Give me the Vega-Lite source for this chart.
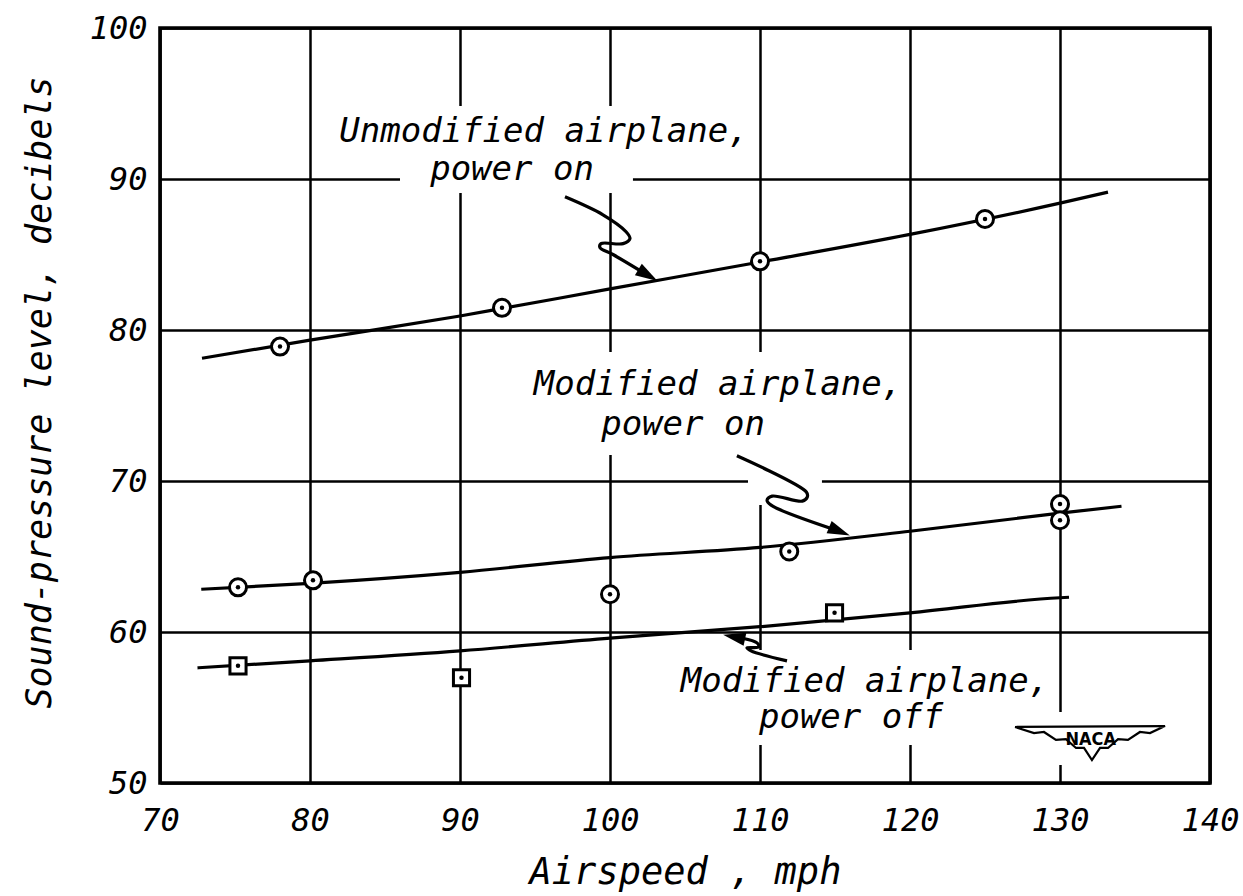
{
  "$schema": "https://vega.github.io/schema/vega-lite/v6.json",
  "width": 1050,
  "height": 755,
  "autosize": {"type": "none"},
  "padding": {"left": 160, "top": 28, "right": 33, "bottom": 113},
  "background": "white",
  "config": {
    "view": {"stroke": "black", "strokeWidth": 3.6},
    "font": "DejaVu Sans Mono",
    "axis": {
      "grid": true, "gridColor": "black", "gridWidth": 2.5, "gridOpacity": 1,
      "domain": false, "ticks": false,
      "labelFont": "DejaVu Sans Mono", "labelFontSize": 32, "labelFontStyle": "italic", "labelColor": "black",
      "titleFont": "DejaVu Sans Mono", "titleFontSize": 35, "titleFontStyle": "italic", "titleFontWeight": "normal", "titleColor": "black"
    }
  },
  "datasets": {
    "curves": [
      {"series": "unmod", "x": 72.8, "y": 78.13},
      {"series": "unmod", "x": 80, "y": 79.33},
      {"series": "unmod", "x": 90, "y": 80.93},
      {"series": "unmod", "x": 100, "y": 82.72},
      {"series": "unmod", "x": 110, "y": 84.5},
      {"series": "unmod", "x": 120, "y": 86.33},
      {"series": "unmod", "x": 130, "y": 88.4},
      {"series": "unmod", "x": 133.2, "y": 89.13},
      {"series": "mod_on", "x": 72.75, "y": 62.83},
      {"series": "mod_on", "x": 80, "y": 63.22},
      {"series": "mod_on", "x": 90, "y": 63.95},
      {"series": "mod_on", "x": 100, "y": 64.93},
      {"series": "mod_on", "x": 110, "y": 65.6},
      {"series": "mod_on", "x": 120, "y": 66.67},
      {"series": "mod_on", "x": 130, "y": 67.87},
      {"series": "mod_on", "x": 134.1, "y": 68.33},
      {"series": "mod_off", "x": 72.5, "y": 57.63},
      {"series": "mod_off", "x": 80, "y": 58.09},
      {"series": "mod_off", "x": 90, "y": 58.75},
      {"series": "mod_off", "x": 100, "y": 59.6},
      {"series": "mod_off", "x": 110, "y": 60.35},
      {"series": "mod_off", "x": 120, "y": 61.27},
      {"series": "mod_off", "x": 130, "y": 62.27},
      {"series": "mod_off", "x": 130.6, "y": 62.3}
    ],
    "obs": [
      {"series": "unmod", "x": 78, "y": 78.9},
      {"series": "unmod", "x": 92.8, "y": 81.47},
      {"series": "unmod", "x": 110, "y": 84.55},
      {"series": "unmod", "x": 125, "y": 87.35},
      {"series": "mod_on", "x": 75.2, "y": 62.96},
      {"series": "mod_on", "x": 80.2, "y": 63.42},
      {"series": "mod_on", "x": 100, "y": 62.5},
      {"series": "mod_on", "x": 111.95, "y": 65.33},
      {"series": "mod_on", "x": 130, "y": 68.47},
      {"series": "mod_on", "x": 130, "y": 67.4},
      {"series": "mod_off", "x": 75.2, "y": 57.76},
      {"series": "mod_off", "x": 90.1, "y": 56.97},
      {"series": "mod_off", "x": 114.97, "y": 61.27}
    ],
    "arrows": [
      {"id": "a1", "ord": 1, "x": 97.0, "y": 88.82},
      {"id": "a1", "ord": 2, "x": 99.53, "y": 87.63},
      {"id": "a1", "ord": 3, "x": 101.07, "y": 86.51},
      {"id": "a1", "ord": 4, "x": 101.33, "y": 86.05},
      {"id": "a1", "ord": 5, "x": 100.87, "y": 85.72},
      {"id": "a1", "ord": 6, "x": 99.4, "y": 85.72},
      {"id": "a1", "ord": 7, "x": 99.33, "y": 85.46},
      {"id": "a1", "ord": 8, "x": 100.2, "y": 85.0},
      {"id": "a1", "ord": 9, "x": 102.53, "y": 83.62},
      {"id": "a2", "ord": 1, "x": 108.46, "y": 71.67},
      {"id": "a2", "ord": 2, "x": 113.09, "y": 69.27},
      {"id": "a2", "ord": 3, "x": 113.15, "y": 68.93},
      {"id": "a2", "ord": 4, "x": 112.82, "y": 68.67},
      {"id": "a2", "ord": 5, "x": 110.81, "y": 69.0},
      {"id": "a2", "ord": 6, "x": 110.47, "y": 68.73},
      {"id": "a2", "ord": 7, "x": 110.74, "y": 68.4},
      {"id": "a2", "ord": 8, "x": 115.3, "y": 66.67},
      {"id": "a3", "ord": 1, "x": 111.8, "y": 58.09},
      {"id": "a3", "ord": 2, "x": 109.4, "y": 58.75},
      {"id": "a3", "ord": 3, "x": 109.13, "y": 58.95},
      {"id": "a3", "ord": 4, "x": 109.93, "y": 59.01},
      {"id": "a3", "ord": 5, "x": 109.8, "y": 59.28},
      {"id": "a3", "ord": 6, "x": 108.73, "y": 59.61},
      {"id": "a3", "ord": 7, "x": 108.27, "y": 59.67}
    ],
    "heads": [
      {"id": "a1", "x": 102.53, "y": 83.62},
      {"id": "a2", "x": 115.3, "y": 66.67},
      {"id": "a3", "x": 108.27, "y": 59.67}
    ],
    "labels": [
      {"text": "Unmodified airplane,", "x": 95.6, "y": 92.45},
      {"text": "power on", "x": 93.47, "y": 89.93},
      {"text": "Modified airplane,", "x": 107.2, "y": 75.7},
      {"text": "power on", "x": 104.87, "y": 73.05},
      {"text": "Modified airplane,", "x": 117.0, "y": 56.03},
      {"text": "power off", "x": 116.07, "y": 53.64}
    ],
    "masks": [
      {"x": 81.67, "x2": 109.47, "y": 94.83, "y2": 91.92},
      {"x": 86.0, "x2": 101.53, "y": 91.92, "y2": 89.07},
      {"x": 94.67, "x2": 119.47, "y": 78.54, "y2": 75.03},
      {"x": 98.0, "x2": 114.67, "y": 75.03, "y2": 71.72},
      {"x": 109.2, "x2": 114.13, "y": 71.72, "y2": 68.41},
      {"x": 105.0, "x2": 129.0, "y": 58.81, "y2": 55.36},
      {"x": 109.0, "x2": 123.0, "y": 55.36, "y2": 52.52},
      {"x": 126.67, "x2": 137.0, "y": 54.7, "y2": 51.19}
    ],
    "logo": [
      {"ord": 1, "x": 127.0, "y": 53.71},
      {"ord": 2, "x": 137.0, "y": 53.77},
      {"ord": 3, "x": 136.0, "y": 53.31},
      {"ord": 4, "x": 135.33, "y": 53.38},
      {"ord": 5, "x": 134.53, "y": 52.85},
      {"ord": 6, "x": 133.87, "y": 52.91},
      {"ord": 7, "x": 133.2, "y": 52.32},
      {"ord": 8, "x": 132.67, "y": 52.32},
      {"ord": 9, "x": 132.13, "y": 51.52},
      {"ord": 10, "x": 131.6, "y": 52.32},
      {"ord": 11, "x": 131.07, "y": 52.32},
      {"ord": 12, "x": 130.4, "y": 52.91},
      {"ord": 13, "x": 129.73, "y": 52.85},
      {"ord": 14, "x": 128.93, "y": 53.38},
      {"ord": 15, "x": 128.27, "y": 53.31},
      {"ord": 16, "x": 127.0, "y": 53.71}
    ],
    "logotext": [
      {"text": "NACA", "x": 132.05, "y": 52.85}
    ]
  },
  "encoding": {
    "x": {
      "field": "x", "type": "quantitative",
      "scale": {"domain": [70, 140], "nice": false, "zero": false},
      "axis": {
        "values": [70, 80, 90, 100, 110, 120, 130, 140],
        "title": "Airspeed , mph",
        "titleFontSize": 37,
        "labelPadding": 22,
        "labelFlush": false,
        "titleX": 525, "titleY": 100, "titleBaseline": "alphabetic", "titleAlign": "center"
      }
    },
    "y": {
      "field": "y", "type": "quantitative",
      "scale": {"domain": [50, 100], "nice": false, "zero": false},
      "axis": {
        "values": [50, 60, 70, 80, 90, 100],
        "title": "Sound-pressure level, decibels",
        "labelPadding": 13,
        "labelFlush": false,
        "labelBaseline": "middle",
        "titleAngle": 270, "titleX": -110, "titleY": 364, "titleBaseline": "alphabetic", "titleAlign": "center"
      }
    }
  },
  "layer": [
    {
      "data": {"name": "masks"},
      "mark": {"type": "rect", "fill": "white", "stroke": null},
      "encoding": {"x2": {"field": "x2"}, "y2": {"field": "y2"}}
    },
    {
      "data": {"name": "curves"},
      "mark": {"type": "line", "color": "black", "strokeWidth": 3.2, "interpolate": "monotone"},
      "encoding": {"detail": {"field": "series"}}
    },
    {
      "data": {"name": "arrows"},
      "mark": {"type": "line", "color": "black", "strokeWidth": 3.2, "interpolate": "catmull-rom"},
      "encoding": {"detail": {"field": "id"}, "order": {"field": "ord", "type": "quantitative"}}
    },
    {
      "data": {"name": "heads"},
      "transform": [{"filter": "datum.id === 'a1'"}],
      "mark": {"type": "point", "shape": "M0,-1L0.6,1L-0.6,1Z", "filled": true, "color": "black", "size": 500, "angle": 121, "opacity": 1}
    },
    {
      "data": {"name": "heads"},
      "transform": [{"filter": "datum.id === 'a2'"}],
      "mark": {"type": "point", "shape": "M0,-1L0.6,1L-0.6,1Z", "filled": true, "color": "black", "size": 500, "angle": 112, "opacity": 1}
    },
    {
      "data": {"name": "heads"},
      "transform": [{"filter": "datum.id === 'a3'"}],
      "mark": {"type": "point", "shape": "M0,-1L0.6,1L-0.6,1Z", "filled": true, "color": "black", "size": 500, "angle": 282, "opacity": 1}
    },
    {
      "data": {"name": "obs"},
      "transform": [{"filter": "datum.series !== 'mod_off'"}],
      "mark": {"type": "point", "shape": "circle", "filled": false, "fill": "white", "fillOpacity": 1, "stroke": "black", "strokeWidth": 3, "size": 290, "opacity": 1}
    },
    {
      "data": {"name": "obs"},
      "transform": [{"filter": "datum.series === 'mod_off'"}],
      "mark": {"type": "point", "shape": "square", "filled": false, "fill": "white", "fillOpacity": 1, "stroke": "black", "strokeWidth": 3, "size": 260, "opacity": 1}
    },
    {
      "data": {"name": "obs"},
      "mark": {"type": "point", "shape": "circle", "filled": true, "color": "black", "size": 20, "opacity": 1}
    },
    {
      "data": {"name": "labels"},
      "mark": {"type": "text", "font": "DejaVu Sans Mono", "fontSize": 34, "fontStyle": "italic", "color": "black", "align": "center", "baseline": "alphabetic"},
      "encoding": {"text": {"field": "text"}}
    },
    {
      "data": {"name": "logo"},
      "mark": {"type": "line", "color": "black", "strokeWidth": 2.2, "interpolate": "linear"},
      "encoding": {"order": {"field": "ord", "type": "quantitative"}}
    },
    {
      "data": {"name": "logotext"},
      "mark": {"type": "text", "font": "DejaVu Sans Condensed", "fontSize": 18, "fontWeight": "bold", "color": "black", "align": "center", "baseline": "middle"},
      "encoding": {"text": {"field": "text"}}
    }
  ]
}
